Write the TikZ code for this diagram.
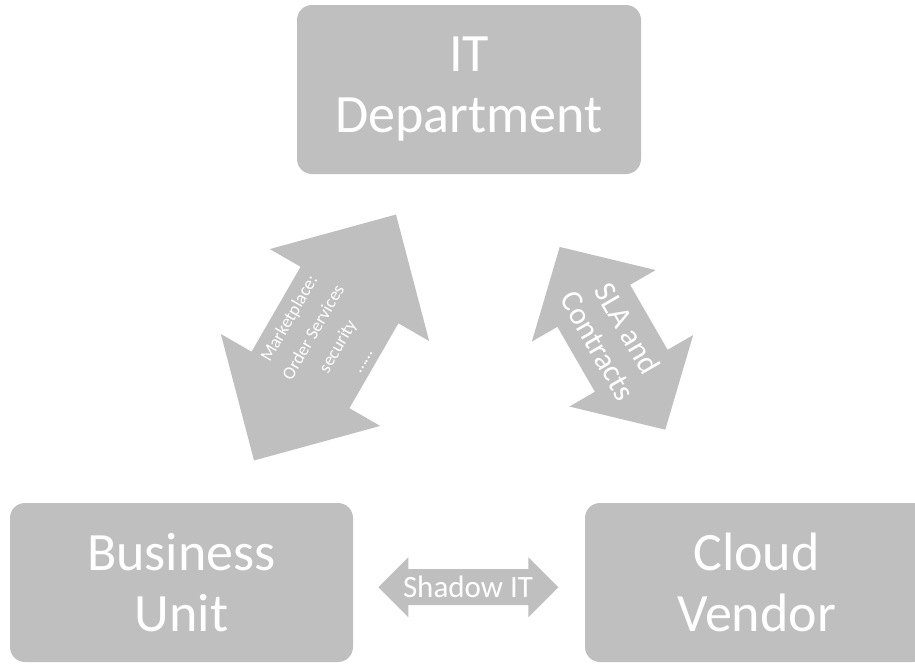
\documentclass[tikz,border=0pt]{standalone}
\usepackage{fontspec}
\setmainfont{Carlito}
\definecolor{boxgray}{RGB}{191,191,191}
\definecolor{arrowgray}{RGB}{191,191,191}
\begin{document}
\begin{tikzpicture}[x=1pt,y=-1pt,
  box/.style={fill=boxgray, rounded corners=15pt, text=white, align=center,
    font=\fontsize{54}{61}\selectfont, inner sep=0pt},
  arrowfill/.style={fill=arrowgray},
  lbl/.style={text=white, align=center, inner sep=0pt}]
\useasboundingbox (0,0) rectangle (915,667);
\clip (0,0) rectangle (915,667);
% boxes
\node[box, minimum width=344pt, minimum height=169pt] (it) at (469,89.5) {IT\\Department};
\node[box, minimum width=343pt, minimum height=159pt] (bu) at (181.5,582.5) {Business\\Unit};
\node[box, minimum width=343pt, minimum height=159pt] (cv) at (756.5,582.5) {Cloud\\Vendor};
% left double arrow (Business Unit <-> IT Department)
\fill[arrowfill, shift={(325,337.5)}, rotate=60]
  (-142,0) -- (-49,92) -- (-49,56.5) -- (49,56.5) -- (49,92) -- (142,0)
  -- (49,-92) -- (49,-56.5) -- (-49,-56.5) -- (-49,-92) -- cycle;
% right double arrow (IT Department <-> Cloud Vendor)
\fill[arrowfill, shift={(612.5,338.3)}, rotate=-60]
  (-105.5,0) -- (-37.5,71.5) -- (-37.5,42) -- (37.5,42) -- (37.5,71.5) -- (105.5,0)
  -- (37.5,-71.5) -- (37.5,-42) -- (-37.5,-42) -- (-37.5,-71.5) -- cycle;
% bottom double arrow (Business Unit <-> Cloud Vendor)
\fill[arrowfill, shift={(468.3,587.2)}]
  (-90,0) -- (-60,30) -- (-60,18) -- (60,18) -- (60,30) -- (90,0)
  -- (60,-30) -- (60,-18) -- (-60,-18) -- (-60,-30) -- cycle;
% labels
\node[lbl, rotate=60, font=\fontsize{18}{28}\selectfont] (mk) at (325,339) {Marketplace:\\Order Services\\security\\……};
\node[lbl, rotate=-60, font=\fontsize{31}{34}\selectfont] (sla) at (613,337) {SLA and\\Contracts};
\node[lbl, font=\fontsize{31}{35}\selectfont] (sh) at (468,587) {Shadow IT};
\end{tikzpicture}
\end{document}
